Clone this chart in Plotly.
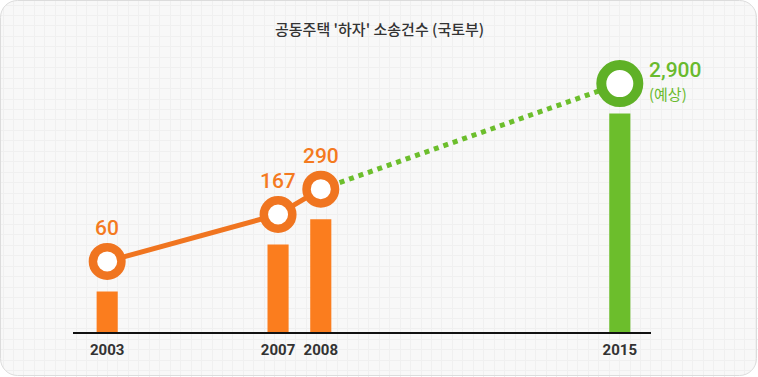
import math
import plotly.graph_objects as go

# ---- data ----
years = [2003, 2007, 2008, 2015]
cases = [60, 167, 290, 2900]
value_labels = ["60", "167", "290", "2,900"]
year_labels = ["2003", "2007", "2008", "2015"]
note_2015 = "(예상)"
title_text = "공동주택 '하자' 소송건수 (국토부)"

W, H = 758, 377
ORANGE = "#FB7D1E"
ORANGE_RING = "#F07520"
GREEN = "#6CBE2C"
GREEN_RING = "#5FB126"
bar_colors = [ORANGE, ORANGE, ORANGE, GREEN]
ring_colors = [ORANGE_RING, ORANGE_RING, ORANGE_RING, GREEN_RING]
label_colors = ["#F47A1F", "#F47A1F", "#F47A1F", "#69BA2D"]

fig = go.Figure()

# bars (data axes x2 / y2)
fig.add_trace(go.Bar(
    x=years, y=cases, width=0.494, marker=dict(color=bar_colors, line=dict(width=0)),
    xaxis="x2", yaxis="y2", hoverinfo="skip", showlegend=False))

# connecting lines (x2 / y3, offset axis)
fig.add_trace(go.Scatter(
    x=years[:3], y=cases[:3], mode="lines", line=dict(color=ORANGE_RING, width=5),
    xaxis="x2", yaxis="y3", hoverinfo="skip", showlegend=False))
fig.add_trace(go.Scatter(
    x=years[2:], y=cases[2:], mode="lines", line=dict(color=GREEN, width=5, dash="dot"),
    xaxis="x2", yaxis="y3", hoverinfo="skip", showlegend=False))

# ring markers
fig.add_trace(go.Scatter(
    x=years, y=cases, mode="markers",
    marker=dict(color="white", opacity=1, size=[28.5, 28.5, 28.5, 37],
                line=dict(color=ring_colors, width=[8.5, 8.5, 8.5, 10])),
    xaxis="x2", yaxis="y3", hoverinfo="skip", showlegend=False))

# ---- annotations (log axis -> exponent coordinates) ----
ann = []
for yr, v, txt, col in zip(years[:3], cases[:3], value_labels[:3], label_colors[:3]):
    ann.append(dict(x=yr, y=math.log10(v), xref="x2", yref="y3", text=txt, showarrow=False,
                    yshift=33, font=dict(family="Roboto", size=21, color=col, weight=500)))
ann.append(dict(x=years[3], y=math.log10(cases[3]), xref="x2", yref="y3", text=value_labels[3],
                showarrow=False, xanchor="left", xshift=27, yshift=14,
                font=dict(family="Roboto", size=21, color=label_colors[3], weight=500)))
ann.append(dict(x=years[3], y=math.log10(cases[3]), xref="x2", yref="y3", text=note_2015,
                showarrow=False, xanchor="left", xshift=27, yshift=-10,
                font=dict(family="Noto Sans CJK KR", size=15, color=label_colors[3])))
ann.append(dict(x=0.5, y=1 - 29 / H, xref="paper", yref="paper", text=title_text,
                showarrow=False, yanchor="middle",
                font=dict(family="Noto Sans CJK KR", size=15, color="#333333", weight=500)))

# ---- background card ----
def rr_path(x0, y0, x1, y1, r):
    k = 0.5523 * r
    return (f"M {x0+r},{y0} L {x1-r},{y0} C {x1-r+k},{y0} {x1},{y0+r-k} {x1},{y0+r} "
            f"L {x1},{y1-r} C {x1},{y1-r+k} {x1-r+k},{y1} {x1-r},{y1} "
            f"L {x0+r},{y1} C {x0+r-k},{y1} {x0},{y1-r+k} {x0},{y1-r} "
            f"L {x0},{y0+r} C {x0},{y0+r-k} {x0+r-k},{y0} {x0+r},{y0} Z")

def corner_masks(x0, y0, x1, y1, r):
    k = 0.5523 * r
    o = 3
    return [
        f"M {x0-o},{y0-o} L {x0+r},{y0-o} L {x0+r},{y0} C {x0+r-k},{y0} {x0},{y0+r-k} {x0},{y0+r} L {x0-o},{y0+r} Z",
        f"M {x1+o},{y0-o} L {x1-r},{y0-o} L {x1-r},{y0} C {x1-r+k},{y0} {x1},{y0+r-k} {x1},{y0+r} L {x1+o},{y0+r} Z",
        f"M {x1+o},{y1+o} L {x1-r},{y1+o} L {x1-r},{y1} C {x1-r+k},{y1} {x1},{y1-r+k} {x1},{y1-r} L {x1+o},{y1-r} Z",
        f"M {x0-o},{y1+o} L {x0+r},{y1+o} L {x0+r},{y1} C {x0+r-k},{y1} {x0},{y1-r+k} {x0},{y1-r} L {x0-o},{y1-r} Z",
    ]

bx0, by0, bx1, by1, rad = 0.5, 0.5, W - 1.5, H - 1.5, 17
shapes = [dict(type="path", path=rr_path(bx0, by0, bx1, by1, rad), xref="x", yref="y",
               fillcolor="#F8F8F8", line=dict(width=0), layer="below")]
for p in corner_masks(bx0, by0, bx1, by1, rad):
    shapes.append(dict(type="path", path=p, xref="x", yref="y", fillcolor="white",
                       line=dict(width=0), layer="between"))
shapes.append(dict(type="path", path=rr_path(bx0, by0, bx1, by1, rad), xref="x", yref="y",
                   fillcolor="rgba(0,0,0,0)", line=dict(color="#DCDCDC", width=1), layer="between"))

base_L = 1.394
dec_px = 105.6
ydom0 = 45 / H
plot_h = H - 45
y_top_L = base_L + plot_h / dec_px
shift = 30 / dec_px

fig.update_layout(
    width=W, height=H, margin=dict(l=0, r=0, t=0, b=0),
    paper_bgcolor="white", plot_bgcolor="rgba(0,0,0,0)",
    showlegend=False, shapes=shapes, annotations=ann,
    # grid / pixel axes
    xaxis=dict(domain=[0, 1], range=[0, W], showgrid=True, gridcolor="#F0F0F0", gridwidth=1,
               tick0=3, dtick=10.45, showticklabels=False, zeroline=False, ticks="",
               fixedrange=True, anchor="y"),
    yaxis=dict(domain=[0, 1], range=[H, 0], showgrid=True, gridcolor="#F0F0F0", gridwidth=1,
               tick0=5, dtick=10.45, showticklabels=False, zeroline=False, ticks="",
               fixedrange=True, anchor="x"),
    # data axes
    xaxis2=dict(domain=[73 / W, 651 / W], range=[2002.2, 2015.73], anchor="y2",
                tickvals=years, ticktext=year_labels, showgrid=False, zeroline=False,
                showline=True, linecolor="#111111", linewidth=2, ticks="",
                ticklabelstandoff=3,
                tickfont=dict(family="Roboto", size=15, color="#333333", weight="bold")),
    yaxis2=dict(domain=[ydom0, 1], type="log", range=[base_L, y_top_L], anchor="x2",
                visible=False, showgrid=False),
    yaxis3=dict(domain=[ydom0, 1], type="log", range=[base_L - shift, y_top_L - shift],
                anchor="x2", overlaying="y2", visible=False, showgrid=False),
)

fig.write_html("out.html", config={"displayModeBar": False},
               post_script="document.body.style.margin='0';")
